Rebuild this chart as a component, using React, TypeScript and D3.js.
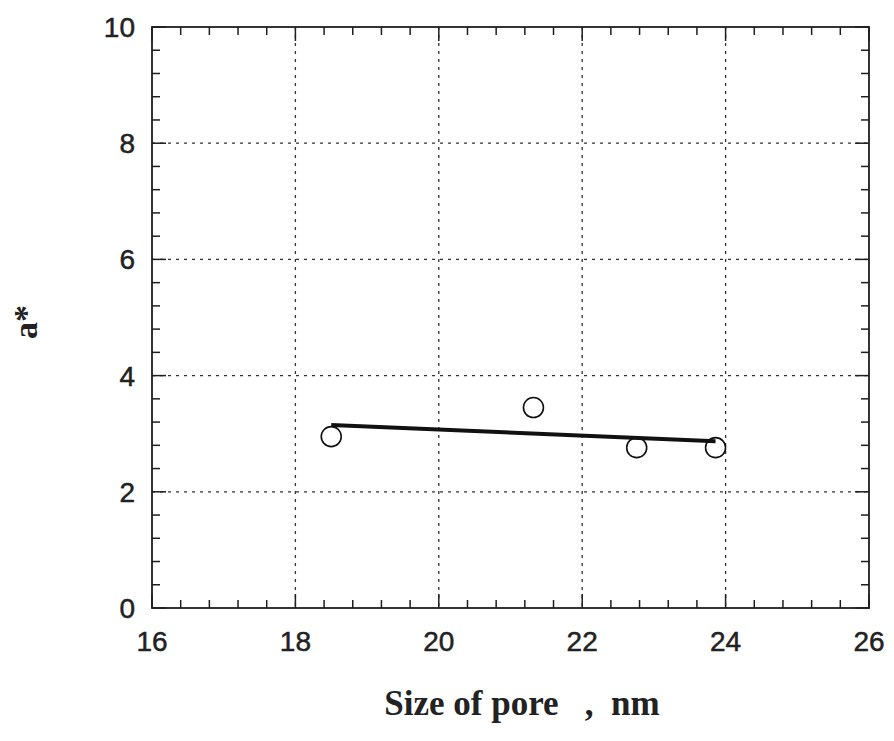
import React, { useEffect, useRef } from 'react';
import * as d3 from 'd3';

// measured points (pore size in nm, a*)
const poreSize = [18.5, 21.32, 22.76, 23.86];
const aStar = [2.95, 3.45, 2.76, 2.76];

// straight fit drawn through the points
const fitX = [18.5, 23.86];
const fitY = [3.15, 2.87];

const xTicks = [16, 18, 20, 22, 24, 26];
const yTicks = [0, 2, 4, 6, 8, 10];

const App: React.FC = () => {
  const ref = useRef<SVGSVGElement | null>(null);

  useEffect(() => {
    const svg = d3.select(ref.current);
    svg.selectAll('*').remove();

    const W = 894;
    const H = 741;
    const left = 152;
    const right = 869;
    const top = 27;
    const bottom = 608;

    svg.attr('width', W).attr('height', H);
    svg.append('rect').attr('width', W).attr('height', H).attr('fill', '#fff');

    const x = d3.scaleLinear().domain([16, 26]).range([left, right]);
    const y = d3.scaleLinear().domain([0, 10]).range([bottom, top]);

    const ink = '#1e1e1e';
    const g = svg.append('g');

    // dashed grid at the major ticks
    g.selectAll('.vgrid')
      .data(xTicks.slice(1, -1))
      .enter()
      .append('line')
      .attr('x1', (d) => x(d))
      .attr('x2', (d) => x(d))
      .attr('y1', top)
      .attr('y2', bottom)
      .attr('stroke', '#333')
      .attr('stroke-width', 1.3)
      .attr('stroke-dasharray', '3,5');

    g.selectAll('.hgrid')
      .data(yTicks.slice(1, -1))
      .enter()
      .append('line')
      .attr('x1', left)
      .attr('x2', right)
      .attr('y1', (d) => y(d))
      .attr('y2', (d) => y(d))
      .attr('stroke', '#333')
      .attr('stroke-width', 1.3)
      .attr('stroke-dasharray', '3,5');

    // inward ticks on all four sides
    const minor = d3.range(0, 26).map((i) => i * 0.4);
    const xMinor = minor.map((v) => 16 + v).filter((v) => v <= 26.001);
    const yMinor = minor.filter((v) => v <= 10.001);
    const isMajor = (v: number) => Math.abs(v / 2 - Math.round(v / 2)) < 1e-6;

    xMinor.forEach((v) => {
      const len = isMajor(v) ? 14 : 8;
      g.append('line')
        .attr('x1', x(v)).attr('x2', x(v))
        .attr('y1', bottom).attr('y2', bottom - len)
        .attr('stroke', ink).attr('stroke-width', 1.5);
      g.append('line')
        .attr('x1', x(v)).attr('x2', x(v))
        .attr('y1', top).attr('y2', top + len)
        .attr('stroke', ink).attr('stroke-width', 1.5);
    });

    yMinor.forEach((v) => {
      const len = isMajor(v) ? 14 : 8;
      g.append('line')
        .attr('x1', left).attr('x2', left + len)
        .attr('y1', y(v)).attr('y2', y(v))
        .attr('stroke', ink).attr('stroke-width', 1.5);
      g.append('line')
        .attr('x1', right).attr('x2', right - len)
        .attr('y1', y(v)).attr('y2', y(v))
        .attr('stroke', ink).attr('stroke-width', 1.5);
    });

    // frame
    g.append('rect')
      .attr('x', left)
      .attr('y', top)
      .attr('width', right - left)
      .attr('height', bottom - top)
      .attr('fill', 'none')
      .attr('stroke', ink)
      .attr('stroke-width', 1.8);

    // tick labels
    g.selectAll('.xlab')
      .data(xTicks)
      .enter()
      .append('text')
      .attr('x', (d) => x(d))
      .attr('y', 651)
      .attr('text-anchor', 'middle')
      .attr('font-family', 'Arial, "Liberation Sans", sans-serif')
      .attr('font-size', 28)
      .attr('fill', '#222')
      .attr('stroke', '#222')
      .attr('stroke-width', 0.5)
      .text((d) => d);

    g.selectAll('.ylab')
      .data(yTicks)
      .enter()
      .append('text')
      .attr('x', left - 17)
      .attr('y', (d) => y(d))
      .attr('dy', '0.36em')
      .attr('text-anchor', 'end')
      .attr('font-family', 'Arial, "Liberation Sans", sans-serif')
      .attr('font-size', 28)
      .attr('fill', '#222')
      .attr('stroke', '#222')
      .attr('stroke-width', 0.5)
      .text((d) => d);

    // fit line
    const line = d3
      .line<number>()
      .x((d) => x(d))
      .y((_, i) => y(fitY[i]));
    g.append('path')
      .attr('d', line(fitX))
      .attr('fill', 'none')
      .attr('stroke', '#111')
      .attr('stroke-width', 4);

    // markers
    g.selectAll('.pt')
      .data(poreSize)
      .enter()
      .append('circle')
      .attr('cx', (d) => x(d))
      .attr('cy', (_, i) => y(aStar[i]))
      .attr('r', 10)
      .attr('fill', 'none')
      .attr('stroke', '#111')
      .attr('stroke-width', 1.6);

    // axis titles
    g.append('text')
      .attr('x', 522)
      .attr('y', 715)
      .attr('text-anchor', 'middle')
      .attr('font-family', '"Liberation Serif", "Times New Roman", serif')
      .attr('font-weight', 'bold')
      .attr('font-size', 35)
      .attr('fill', '#222')
      .style('white-space', 'pre')
      .text('Size of pore   ,  nm');

    g.append('text')
      .attr('transform', 'translate(37,322) rotate(-90)')
      .attr('text-anchor', 'middle')
      .attr('font-family', '"Liberation Serif", "Times New Roman", serif')
      .attr('font-weight', 'bold')
      .attr('font-size', 34)
      .attr('fill', '#222')
      .text('a*');
  }, []);

  return <svg ref={ref} style={{ position: 'absolute', left: 0, top: 0 }}></svg>;
};

export default App;
